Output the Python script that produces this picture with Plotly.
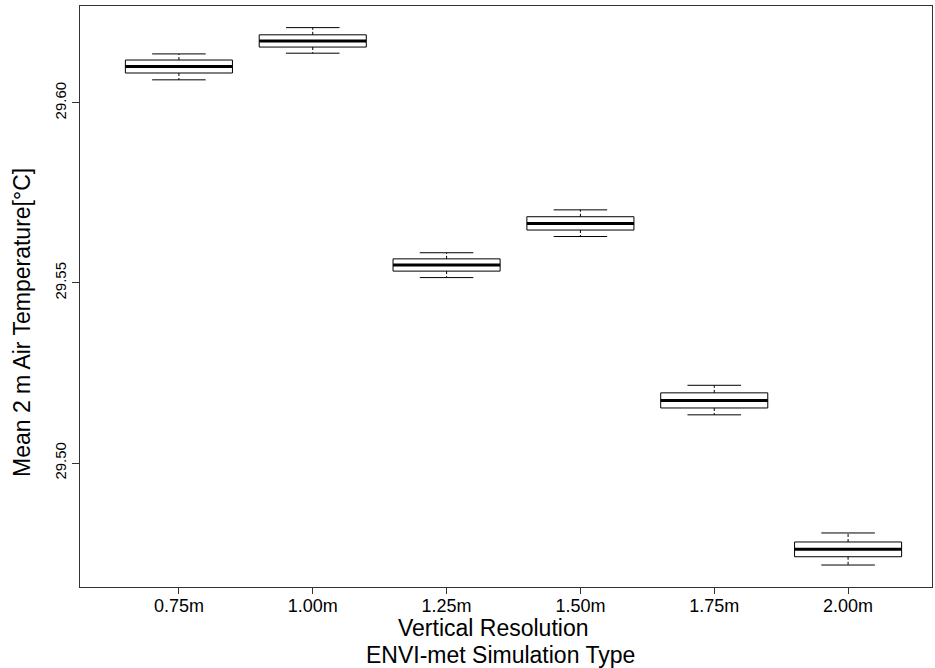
import plotly.graph_objects as go

categories = ["0.75m", "1.00m", "1.25m", "1.50m", "1.75m", "2.00m"]
lower_whisker = [29.6064, 29.6138, 29.5515, 29.5629, 29.5134, 29.4717]
q1 = [29.6083, 29.6155, 29.5533, 29.5647, 29.5153, 29.4740]
median = [29.6101, 29.6172, 29.5550, 29.5665, 29.5174, 29.4761]
q3 = [29.6119, 29.6189, 29.5567, 29.5684, 29.5195, 29.4781]
upper_whisker = [29.6136, 29.6209, 29.5584, 29.5703, 29.5216, 29.4806]
y_ticks = [29.50, 29.55, 29.60]
y_tick_labels = ["29.50", "29.55", "29.60"]

BW = 0.4   # half box width
CW = 0.2   # half cap width

box_x, box_y, med_x, med_y, wh_x, wh_y, cap_x, cap_y = [], [], [], [], [], [], [], []
for i in range(len(categories)):
    box_x += [i - BW, i + BW, i + BW, i - BW, i - BW, None]
    box_y += [q1[i], q1[i], q3[i], q3[i], q1[i], None]
    med_x += [i - BW, i + BW, None]
    med_y += [median[i], median[i], None]
    wh_x += [i, i, None, i, i, None]
    wh_y += [q3[i], upper_whisker[i], None, q1[i], lower_whisker[i], None]
    cap_x += [i - CW, i + CW, None, i - CW, i + CW, None]
    cap_y += [upper_whisker[i], upper_whisker[i], None, lower_whisker[i], lower_whisker[i], None]

fig = go.Figure()
fig.add_trace(go.Scatter(x=wh_x, y=wh_y, mode="lines", line=dict(color="black", width=1, dash="3px,2px"), hoverinfo="skip"))
fig.add_trace(go.Scatter(x=cap_x, y=cap_y, mode="lines", line=dict(color="black", width=1), hoverinfo="skip"))
fig.add_trace(go.Scatter(x=box_x, y=box_y, mode="lines", line=dict(color="black", width=1), hoverinfo="skip"))
fig.add_trace(go.Scatter(x=med_x, y=med_y, mode="lines", line=dict(color="black", width=3), hoverinfo="skip"))

font_family = "Liberation Sans, Arial, sans-serif"
L, R, T, B = 80, 932, 6, 587
fig.update_layout(
    width=935, height=668,
    margin=dict(l=L, r=935 - R, t=T, b=668 - B),
    plot_bgcolor="white", paper_bgcolor="white",
    showlegend=False,
    font=dict(family=font_family, color="black"),
    xaxis=dict(
        range=[-0.739, 5.627],
        tickvals=list(range(len(categories))), ticktext=categories,
        ticks="outside", ticklen=6, tickcolor="#333", tickfont=dict(size=18),
        ticklabelstandoff=-4,
        showline=True, linecolor="#333", linewidth=1, mirror=True,
        showgrid=False, zeroline=False,
    ),
    yaxis=dict(
        range=[29.4656, 29.6269],
        tickvals=y_ticks, ticktext=y_tick_labels, tickangle=-90,
        ticks="outside", ticklen=7, tickcolor="#333", tickfont=dict(size=15),
        showline=True, linecolor="#333", linewidth=1, mirror=True,
        showgrid=False, zeroline=False,
    ),
    annotations=[
        dict(text="Vertical Resolution", x=(493 - L) / (R - L), y=(B - 628) / (B - T), xref="paper", yref="paper",
             showarrow=False, xanchor="center", yanchor="middle", font=dict(size=23)),
        dict(text="ENVI-met Simulation Type", x=(500 - L) / (R - L), y=(B - 655) / (B - T), xref="paper", yref="paper",
             showarrow=False, xanchor="center", yanchor="middle", font=dict(size=23)),
        dict(text="Mean 2 m Air Temperature[°C]", x=(22 - L) / (R - L), y=(B - 323) / (B - T),
             xref="paper", yref="paper", showarrow=False, xanchor="center", yanchor="middle",
             textangle=-90, font=dict(size=23)),
    ],
)

fig.write_html("out.html", config={"displayModeBar": False},
               post_script="document.body.style.margin='0';document.body.style.padding='0';")
